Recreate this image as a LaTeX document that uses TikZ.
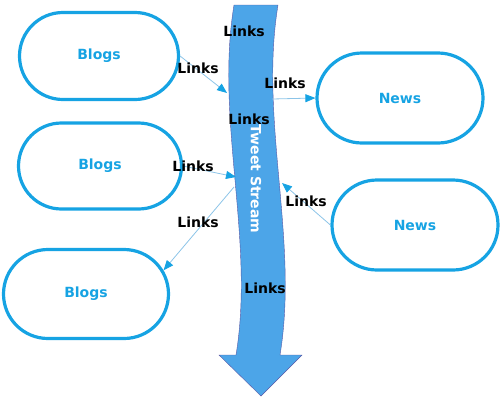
\documentclass[tikz,border=0pt]{standalone}
\usepackage{fontspec}
\setmainfont{DejaVu Sans}
\usetikzlibrary{shapes.misc,arrows.meta}
\definecolor{cyanb}{HTML}{16A3E3}
\definecolor{streamb}{HTML}{4CA5E8}
\definecolor{connb}{HTML}{8CC4E8}
\tikzset{
  pill/.style={rounded rectangle, draw=cyanb, line width=3.2pt, text=cyanb,
    font=\fontsize{14}{16}\selectfont\bfseries, inner sep=0pt},
  lbl/.style={font=\fontsize{14}{16}\selectfont\bfseries, text=black, inner sep=0pt},
  conn/.style={draw=connb, line width=0.8pt, -{Triangle[length=10pt,width=8pt,color=cyanb]}},
}
\begin{document}
\begin{tikzpicture}[x=1pt,y=-1pt]
\useasboundingbox (0,0) rectangle (500,400);
% stream
\fill[streamb, draw=gray!70!blue, line width=0.4pt]
  (234,5) -- (278,5) .. controls (259,120) and (299,240) .. (280,355)
  -- (302,355) -- (261,396) -- (219,355) -- (236,355)
  .. controls (255,240) and (215,120) .. (234,5) -- cycle;
\node[lbl, text=white, rotate=-90] (ts) at (256,179) {Tweet Stream};
% nodes
\node[pill, minimum width=159pt, minimum height=87pt] (b1) at (99,56) {Blogs};
\node[pill, minimum width=163pt, minimum height=86pt] (b2) at (100,166) {Blogs};
\node[pill, minimum width=165pt, minimum height=89pt] (b3) at (86,294) {Blogs};
\node[pill, minimum width=166pt, minimum height=90pt] (n1) at (400,98) {News};
\node[pill, minimum width=166pt, minimum height=90pt] (n2) at (415,225) {News};
% stream points
\coordinate (s1) at (227,93);
\coordinate (s2) at (272,99);
\coordinate (s3) at (236,177);
\coordinate (s4) at (282,183);
\coordinate (s5) at (234,187);
% connectors
\draw[conn] (b1.east) -- (s1);
\draw[conn] (s2) -- (n1.west);
\draw[conn] (b2.east) -- (s3);
\draw[conn] (n2.west) -- (s4);
\draw[conn] (s5) -- (b3.17);
% labels
\node[lbl] (l1) at (244,31) {Links};
\node[lbl] (l2) at (198,68) {Links};
\node[lbl] (l3) at (285,83) {Links};
\node[lbl] (l4) at (249,119) {Links};
\node[lbl] (l5) at (193,166) {Links};
\node[lbl] (l6) at (198,222) {Links};
\node[lbl] (l7) at (306,201) {Links};
\node[lbl] (l8) at (265,288) {Links};
\end{tikzpicture}
\end{document}
